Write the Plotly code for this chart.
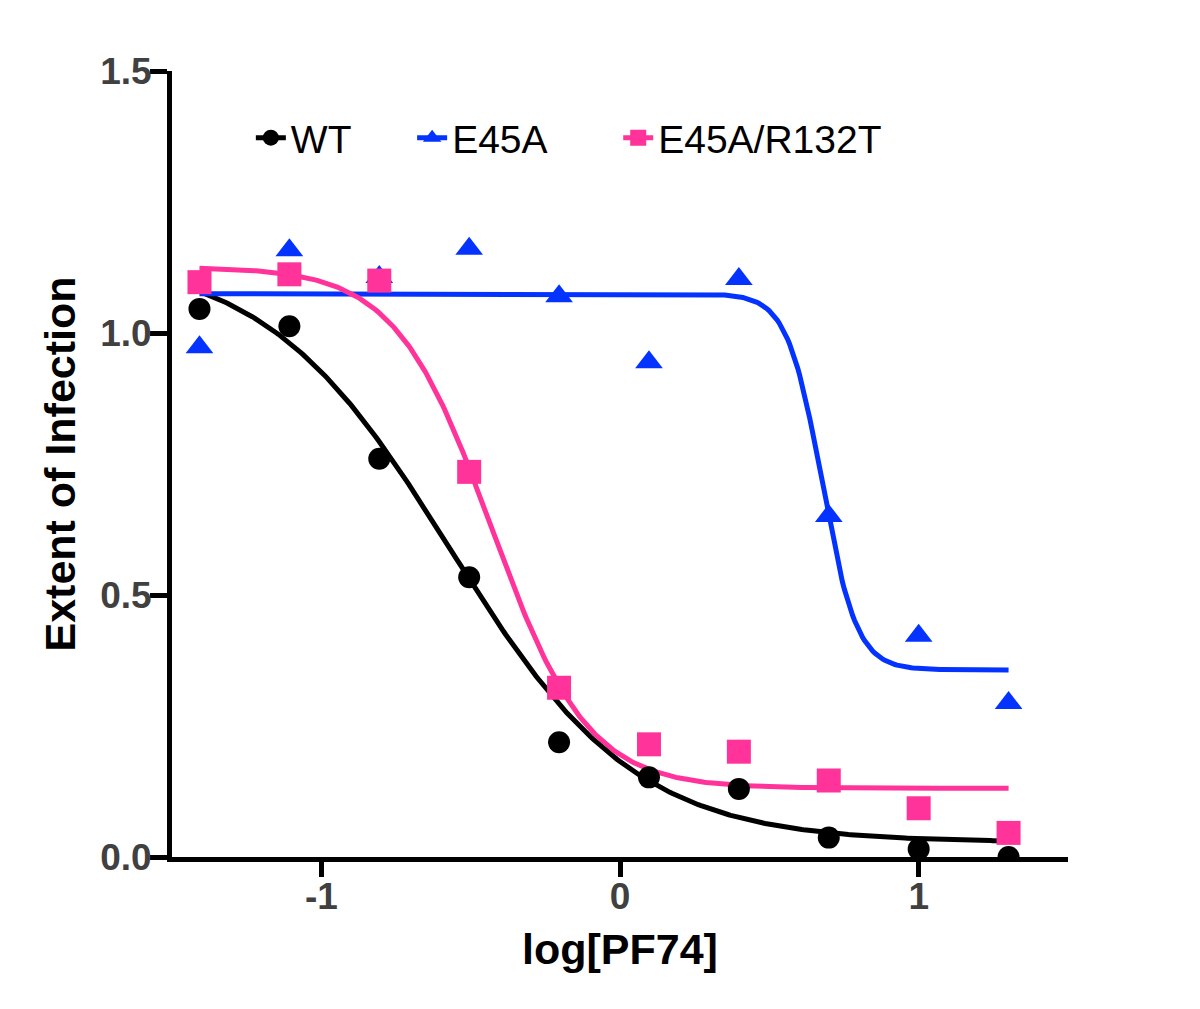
import numpy as np
import plotly.graph_objects as go

# x positions: log10 of PF74 concentration
log_pf74 = [-1.408, -1.107, -0.806, -0.505, -0.204, 0.097, 0.398, 0.699, 1.0, 1.301]

# measured extent of infection
wt = [1.046, 1.013, 0.760, 0.534, 0.219, 0.152, 0.130, 0.037, 0.015, 0.0]
e45a = [0.973, 1.158, 1.107, 1.161, 1.070, 0.944, 1.103, 0.651, 0.422, 0.294]
e45a_r132t = [1.097, 1.112, 1.100, 0.735, 0.323, 0.215, 0.201, 0.146, 0.093, 0.046]

# 4-parameter logistic fits: [top, bottom, logIC50, hill]
wt_fit = [1.15, 0.028, -0.57, 1.4]
e45a_fit = [1.075, 0.357, 0.676, 7.5]
e45a_r132t_fit = [1.126, 0.131, -0.43, 2.7]

colors = {
    'WT': '#000000',
    'E45A': '#0433FF',
    'E45A/R132T': '#FF3399',
}
symbols = {'WT': 'circle', 'E45A': 'triangle-up', 'E45A/R132T': 'square'}
sizes = {'WT': 22, 'E45A': 24, 'E45A/R132T': 24}

series = [
    ('WT', wt, wt_fit, 'legend'),
    ('E45A', e45a, e45a_fit, 'legend2'),
    ('E45A/R132T', e45a_r132t, e45a_r132t_fit, 'legend3'),
]


def logistic(x, p):
    top, bottom, c, h = p
    return bottom + (top - bottom) / (1 + 10 ** ((x - c) * h))


x_fit = np.linspace(log_pf74[0], log_pf74[-1], 400)

fig = go.Figure()
for name, vals, fit, leg in series:
    # fitted curve
    fig.add_trace(go.Scatter(
        x=x_fit, y=logistic(x_fit, fit), mode='lines',
        line=dict(color=colors[name], width=5),
        showlegend=False, hoverinfo='skip',
    ))
    # legend entry (line + marker)
    fig.add_trace(go.Scatter(
        x=[None], y=[None], mode='lines+markers', name=name,
        line=dict(color=colors[name], width=5),
        marker=dict(color=colors[name], symbol=symbols[name], size=sizes[name]),
        legend=leg,
    ))

for name, vals, fit, leg in series:
    fig.add_trace(go.Scatter(
        x=log_pf74, y=vals, mode='markers', name=name,
        marker=dict(color=colors[name], symbol=symbols[name], size=sizes[name]),
        showlegend=False,
    ))

axis_font = dict(family='Liberation Sans, Arial, sans-serif', size=37, color='#404040')
title_font = dict(family='Liberation Sans, Arial, sans-serif', size=43, color='#000000')

fig.update_xaxes(
    range=[-1.5, 1.5], tickvals=[-1, 0, 1], ticktext=['<b>-1</b>', '<b>0</b>', '<b>1</b>'],
    showline=True, linecolor='black', linewidth=5,
    ticks='outside', ticklen=15, tickwidth=5, tickcolor='black',
    showgrid=False, zeroline=False, tickfont=axis_font, ticklabelstandoff=-12,
    title=dict(text='<b>log[PF74]</b>', font=title_font, standoff=19),
)
fig.update_yaxes(
    range=[0, 1.5], tickvals=[0, 0.5, 1.0, 1.5],
    ticktext=['<b>0.0</b>', '<b>0.5</b>', '<b>1.0</b>', '<b>1.5</b>'],
    showline=True, linecolor='black', linewidth=5,
    ticks='outside', ticklen=17, tickwidth=5, tickcolor='black',
    showgrid=False, zeroline=False, tickfont=axis_font, ticklabelstandoff=-9,
    title=dict(text='<b>Extent of Infection</b>', font=title_font, standoff=13),
)

legend_common = dict(
    orientation='h', yanchor='middle', y=0.915, xanchor='left',
    font=dict(family='Liberation Sans, Arial, sans-serif', size=39, color='black'),
    bgcolor='rgba(0,0,0,0)', itemsizing='trace',
)
# page body adds an 8px offset, so the figure is 8px smaller than the window
fig.update_layout(
    width=1192, height=1001,
    margin=dict(l=164, r=132, t=63, b=152),
    plot_bgcolor='white', paper_bgcolor='white',
    legend=dict(x=0.088, **legend_common),
    legend2=dict(x=0.268, **legend_common),
    legend3=dict(x=0.498, **legend_common),
)

fig.write_html('out.html')
